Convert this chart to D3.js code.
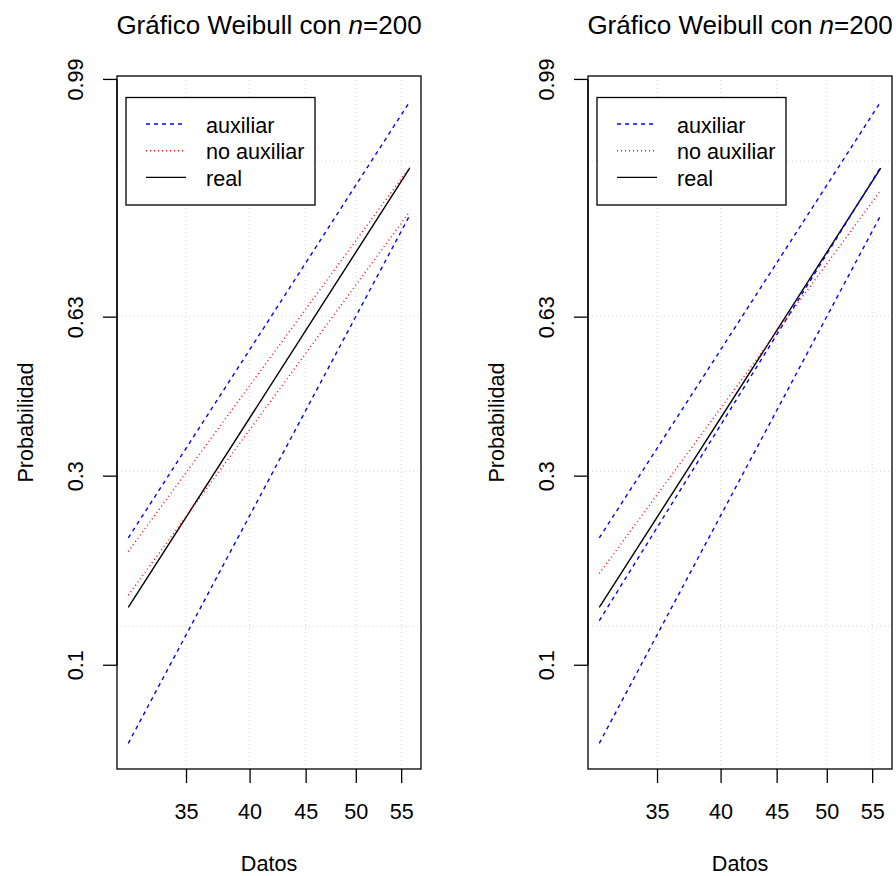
<!DOCTYPE html>
<html>
<head>
<meta charset="utf-8">
<script src="https://cdn.jsdelivr.net/npm/d3@7"></script>
<style>
  html, body { margin: 0; padding: 0; background: #fff; }
  svg { display: block; font-family: "Liberation Sans", Arial, sans-serif; }
</style>
</head>
<body>
<svg id="chart" width="896" height="876"></svg>
<script>
// Range of the data (Datos) over which each fitted line is drawn
const xEnds = [31, 56];

// Cumulative probabilities at the two ends of xEnds
const auxUpper = [0.213, 0.9815];
const auxLower = [0.0617, 0.853];
const auxInner = [0.131, 0.927];
const noAuxUpper = [0.197, 0.927];
const noAuxLower = [0.1525, 0.8597];
const noAuxMid = [0.1734, 0.8948];
const realCurve = [0.1418, 0.9257];

// Axis ticks and grid levels
const xTicks = [35, 40, 45, 50, 55];
const yTicks = [0.1, 0.3, 0.63, 0.99];
const yTickLabels = ["0.1", "0.3", "0.63", "0.99"];
const gridLevels = [-2, -1, 0, 1]; // on the log(-log(1-p)) scale

const legendLabels = ["auxiliar", "no auxiliar", "real"];
const titleText = ["Gráfico Weibull con ", "n", "=200"];
const xLabel = "Datos";
const yLabel = "Probabilidad";

const styles = {
  aux:   { color: "#0000FF", dash: "4,4" },
  noaux: { color: "#FF0000", dash: "1,3" },
  real:  { color: "#000000", dash: null }
};

// Each panel: which curves it carries
const panels = [
  { left: 117, curves: [
      { p: realCurve, s: "real" },
      { p: auxUpper, s: "aux" },
      { p: auxLower, s: "aux" },
      { p: noAuxUpper, s: "noaux" },
      { p: noAuxLower, s: "noaux" } ] },
  { left: 588, curves: [
      { p: realCurve, s: "real" },
      { p: auxUpper, s: "aux" },
      { p: auxInner, s: "aux" },
      { p: auxLower, s: "aux" },
      { p: noAuxMid, s: "noaux" } ] }
];

const weib = p => Math.log(-Math.log(1 - p));
const plotW = 304, plotTop = 76, plotBottom = 769;
const fs = 21.6;

const svg = d3.select("#chart");

panels.forEach(panel => {
  const g = svg.append("g");
  const L = panel.left, R = L + plotW;

  // x: log scale with 4% padding each side
  const lx = xEnds.map(Math.log);
  const padX = 0.04 * (lx[1] - lx[0]);
  const x = d3.scaleLog()
    .domain([Math.exp(lx[0] - padX), Math.exp(lx[1] + padX)])
    .range([L, R]);

  // y: linear on the Weibull scale, padded the same way
  const allW = panel.curves.flatMap(c => c.p.map(weib));
  const wMin = d3.min(allW), wMax = d3.max(allW);
  const padY = 0.04 * (wMax - wMin);
  const y = d3.scaleLinear()
    .domain([wMin - padY, wMax + padY])
    .range([plotBottom, plotTop]);

  // grid
  g.selectAll(".vgrid").data(xTicks).join("line")
    .attr("x1", d => x(d)).attr("x2", d => x(d))
    .attr("y1", plotTop).attr("y2", plotBottom)
    .attr("stroke", "#D3D3D3").attr("stroke-dasharray", "1,3");
  g.selectAll(".hgrid").data(gridLevels).join("line")
    .attr("x1", L).attr("x2", R)
    .attr("y1", d => y(d)).attr("y2", d => y(d))
    .attr("stroke", "#D3D3D3").attr("stroke-dasharray", "1,3");

  // curves
  const line = d3.line().x(d => x(d[0])).y(d => y(weib(d[1])));
  panel.curves.forEach(c => {
    const st = styles[c.s];
    g.append("path")
      .attr("d", line(xEnds.map((xv, i) => [xv, c.p[i]])))
      .attr("fill", "none")
      .attr("stroke", st.color)
      .attr("stroke-width", 1.4)
      .attr("stroke-dasharray", st.dash);
  });

  // frame
  g.append("rect")
    .attr("x", L).attr("y", plotTop).attr("width", plotW).attr("height", plotBottom - plotTop)
    .attr("fill", "none").attr("stroke", "#000").attr("stroke-width", 1.3);

  // x axis
  const xAxis = d3.axisBottom(x).tickValues(xTicks).tickFormat(d3.format("d"))
    .tickSize(14).tickSizeOuter(0);
  const gx = g.append("g").attr("transform", `translate(0,${plotBottom})`).call(xAxis);
  gx.select(".domain").remove();
  gx.selectAll(".tick line").attr("stroke", "#000").attr("stroke-width", 1.3);
  gx.selectAll(".tick text").attr("font-size", fs).attr("font-family", "Liberation Sans, Arial, sans-serif")
    .attr("fill", "#000").attr("dy", null).attr("y", 50);

  // y axis (ticks on the left, labels rotated)
  const yTickW = yTicks.map(weib);
  g.append("line")
    .attr("x1", L).attr("x2", L)
    .attr("y1", y(yTickW[0])).attr("y2", y(yTickW[yTickW.length - 1]))
    .attr("stroke", "#000").attr("stroke-width", 1.3);
  g.selectAll(".ytick").data(yTickW).join("line")
    .attr("x1", L - 14).attr("x2", L)
    .attr("y1", d => y(d)).attr("y2", d => y(d))
    .attr("stroke", "#000").attr("stroke-width", 1.3);
  g.selectAll(".ylab").data(yTickW).join("text")
    .attr("transform", d => `translate(${L - 34},${y(d)}) rotate(-90)`)
    .attr("text-anchor", "middle")
    .attr("font-size", fs)
    .text((d, i) => yTickLabels[i]);

  // axis titles
  g.append("text")
    .attr("x", L + plotW / 2).attr("y", 871)
    .attr("text-anchor", "middle").attr("font-size", fs)
    .text(xLabel);
  g.append("text")
    .attr("transform", `translate(${L - 84},${(plotTop + plotBottom) / 2}) rotate(-90)`)
    .attr("text-anchor", "middle").attr("font-size", fs)
    .text(yLabel);

  // main title
  const t = g.append("text")
    .attr("x", L + plotW / 2).attr("y", 34)
    .attr("text-anchor", "middle").attr("font-size", 26);
  t.append("tspan").text(titleText[0]);
  t.append("tspan").attr("font-style", "italic").text(titleText[1]);
  t.append("tspan").text(titleText[2]);

  // legend
  const lg = g.append("g").attr("transform", `translate(${L + 9},97.5)`);
  lg.append("rect").attr("width", 189).attr("height", 107.5)
    .attr("fill", "#fff").attr("stroke", "#000").attr("stroke-width", 1.3);
  const keys = ["aux", "noaux", "real"];
  legendLabels.forEach((lab, i) => {
    const ly = 26.5 + i * 26.7;
    const st = styles[keys[i]];
    lg.append("line")
      .attr("x1", 20).attr("x2", 60).attr("y1", ly).attr("y2", ly)
      .attr("stroke", st.color).attr("stroke-width", 1.4)
      .attr("stroke-dasharray", st.dash);
    lg.append("text")
      .attr("x", 80).attr("y", ly + 8.5)
      .attr("font-size", fs).text(lab);
  });
});
</script>
</body>
</html>
